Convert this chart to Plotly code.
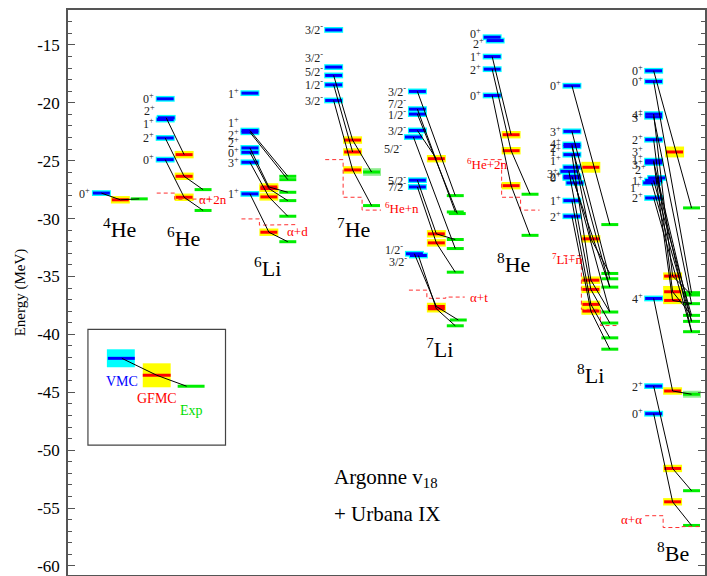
import plotly.graph_objects as go

FONT = "Liberation Serif"

# ---------------- data (energies in MeV) ----------------
Y_TICKS = [-60, -55, -50, -45, -40, -35, -30, -25, -20, -15]
Y_TICK_TEXT = ["-60", "-55", "-50", "-45", "-40", "-35", "-30", "-25", "-20", "-15"]

NUCLEI = ["4He", "6He", "6Li", "7He", "7Li", "8He", "8Li", "8Be"]
NUC_TEXT = ["<sup>4</sup>He", "<sup>6</sup>He", "<sup>6</sup>Li", "<sup>7</sup>He",
            "<sup>7</sup>Li", "<sup>8</sup>He", "<sup>8</sup>Li", "<sup>8</sup>Be"]

HE4_VMC = [-27.8]
HE4_VMC_LBL = ["0+"]
HE4_GFMC = [-28.38]
HE4_EXP = [-28.30]
HE4_LINKS = [(0, 0, 0)]

HE6_VMC = [-19.66, -21.3, -21.45, -23.04, -24.91]
HE6_VMC_LBL = ["0+", "2+", "1+", "2+", "0+"]
HE6_GFMC = [-24.48, -26.35, -28.16]
HE6_EXP = [-27.5, -29.3]
HE6_LINKS = [(1, 0, None), (3, 1, 0), (4, 2, 1)]

LI6_VMC = [-19.17, -22.4, -22.55, -23.9, -24.28, -25.14, -27.87]
LI6_VMC_LBL = ["1+", "1+", "2+", "2+", "0+", "3+", "1+"]
LI6_GFMC = [-27.27, -27.41, -28.13, -31.18]
LI6_EXP = [-26.35, -26.64, -27.73, -28.45, -29.8, -32.0]
LI6_LINKS = [(1, None, 0), (2, None, 1), (3, 0, 2), (4, 1, 3), (5, 2, 4), (6, 3, 5)]

HE7_VMC = [-13.71, -16.92, -17.64, -18.45, -19.8]
HE7_VMC_LBL = ["3/2-", "3/2-", "5/2-", "1/2-", "3/2-"]
HE7_GFMC = [-23.22, -24.25, -25.8]
HE7_EXP = [-25.98, -28.88]
HE7_LINKS = [(2, 0, 0), (3, 1, None), (4, 2, 1)]

LI7_VMC = [-19.02, -20.55, -20.98, -22.39, -22.96, -26.69, -27.27, -33.04, -33.19]
LI7_VMC_LBL = ["3/2-", "7/2-", "1/2-", "3/2-", "5/2-", "5/2-", "7/2-", "1/2-", "3/2-"]
LI7_GFMC = [-24.83, -31.32, -32.1, -37.59, -37.79]
LI7_EXP = [-28.02, -29.43, -29.57, -31.81, -32.59, -34.63, -38.76, -39.26]
LI7_LINKS = [(0, None, 0), (1, None, 1), (2, None, 2), (3, 0, None), (4, None, 4),
             (5, 1, 3), (6, 2, 5), (7, 3, 6), (8, 4, 7)]

HE8_VMC = [-14.34, -14.63, -16.01, -17.1, -19.37]
HE8_VMC_LBL = ["0+", "2+", "1+", "2+", "0+"]
HE8_GFMC = [-22.76, -24.14, -27.16]
HE8_EXP = [-27.9, -31.45]
HE8_LINKS = [(2, 0, None), (3, 1, 0), (4, 2, 1)]

LI8_VMC = [-18.53, -22.47, -23.6, -23.77, -24.48, -25.57, -25.92, -26.35, -26.49,
           -26.92, -28.45, -29.8]
LI8_VMC_LBL = ["0+", "3+", "4+", "2+", "1+", "1+", "3+", "2+", "0+", "", "1+", "2+"]
LI8_GFMC = [-25.57, -31.75, -35.32, -36.12, -37.41, -37.99]
LI8_EXP = [-30.52, -34.74, -35.2, -35.92, -38.07, -39.02, -40.3, -41.28]
LI8_LINKS = [(0, None, 0), (1, None, 2), (2, 1, 1), (3, None, 3), (4, 2, 4), (6, 3, 5),
             (7, None, 3), (9, None, 4), (10, 4, 6), (11, 5, 7)]

BE8_VMC = [-17.24, -18.16, -20.98, -21.21, -23.19, -25.0, -25.11, -25.2, -26.49,
           -26.72, -26.92, -28.22, -36.9, -44.47, -46.85]
BE8_VMC_LBL = ["0+", "0+", "4+", "3+", "2+", "3+", "1+", "3+", "2+", "1+", "1+", "2+",
               "4+", "2+", "0+"]
BE8_GFMC = [-24.25, -34.97, -36.32, -37.07, -44.89, -51.58, -54.46]
BE8_EXP = [-29.08, -36.4, -36.6, -37.35, -38.36, -38.88, -39.77, -45.17, -53.5, -56.5]
BE8_LINKS = [(0, None, 0), (1, None, 1), (2, 1, 2), (3, None, 3), (4, 2, 4), (5, 3, 3),
             (6, None, 5), (8, None, 6), (9, None, 4), (10, None, 5), (11, None, 6),
             (12, 4, 7), (13, 5, 8), (14, 6, 9)]

# breakup thresholds (VMC, GFMC, Exp)
THR_NUC = ["6He", "6Li", "7He", "7Li", "8He", "8Li", "8Be"]
THR_VMC = [-27.8, -30.03, -24.91, -36.18, -24.91, -33.2, -55.66]
THR_GFMC = [-28.34, -30.57, -28.16, -36.88, -28.16, -37.84, -56.68]
THR_EXP = [-28.30, -30.52, -29.27, -36.78, -29.27, -39.24, -56.6]
THR_TEXT = ["α+2n", "α+d", "<sup>6</sup>He+n", "α+t", "<sup>6</sup>He+2n",
            "<sup>7</sup>Li+n", "α+α"]

# ---------------- layout / style ----------------
NUC_X0 = [93, 157, 242, 326, 410, 485, 565, 647]       # left edge of each VMC column
NUC_LABEL_POS = [(120, -30.78), (184, -31.55), (268, -34.14), (354, -30.8),
                 (441, -41.2), (515, -33.8), (592, -43.4), (675, -58.8)]
THR_TEXT_POS = [(197, -28.36), (286, -31.12), (384, -29.05), (469, -36.81),
                (466, -25.26), (552, -33.53), (621, -56.03)]
COL_DX = {"vmc": 0, "gfmc": 19, "exp": 38}
BW = 17
COLORS = {"vmc": "#0000ff", "gfmc": "#ff0000", "exp": "#00ee00"}
BAND = {"vmc": "#00ffff", "gfmc": "#ffff00"}
BAND_ERR = {"vmc": 0.25, "gfmc": 0.32}
BAND_OVERRIDE = {("8Li", "gfmc", 0): 0.47, ("8Be", "gfmc", 0): 0.47,
                 ("8Be", "gfmc", 2): 0.5}
EXP_BANDS = {("7He", 0): 0.33, ("8Be", 7): 0.3}
LABEL_SHIFT = {("6He", 1): 0.6, ("6He", 2): -0.3, ("6Li", 1): 0.7, ("6Li", 2): -0.2,
               ("6Li", 3): 0.5, ("7He", 1): 0.8, ("7He", 2): 0.35, ("7Li", 1): 0.45,
               ("7Li", 4): -0.95, ("7Li", 7): 0.35, ("7Li", 8): -0.55, ("8He", 0): 0.35,
               ("8He", 1): -0.25, ("8Li", 2): 0.1, ("8Li", 3): -0.1, ("8Li", 4): 0.3,
               ("8Li", 5): 0.6, ("8Li", 6): -0.2, ("8Be", 5): 0.8, ("8Be", 6): 0.2,
               ("8Be", 7): -0.14, ("8Be", 8): 0.7, ("8Be", 10): -0.38, ("8Be", 3): -0.05}
BAR_SHIFT = {("6He", "vmc", 1): 1, ("7Li", "vmc", 4): -4, ("7Li", "vmc", 7): -3,
             ("7Li", "vmc", 8): 1, ("8He", "vmc", 1): 3, ("8Li", "vmc", 6): -3,
             ("8Li", "vmc", 9): 3, ("8Be", "vmc", 8): 3, ("8Be", "vmc", 10): -2,
             ("7Li", "exp", 2): 2, ("7Li", "exp", 6): 3, ("8Be", "gfmc", 0): 2}

TABLE = {
    "4He": (HE4_VMC, HE4_VMC_LBL, HE4_GFMC, HE4_EXP, HE4_LINKS),
    "6He": (HE6_VMC, HE6_VMC_LBL, HE6_GFMC, HE6_EXP, HE6_LINKS),
    "6Li": (LI6_VMC, LI6_VMC_LBL, LI6_GFMC, LI6_EXP, LI6_LINKS),
    "7He": (HE7_VMC, HE7_VMC_LBL, HE7_GFMC, HE7_EXP, HE7_LINKS),
    "7Li": (LI7_VMC, LI7_VMC_LBL, LI7_GFMC, LI7_EXP, LI7_LINKS),
    "8He": (HE8_VMC, HE8_VMC_LBL, HE8_GFMC, HE8_EXP, HE8_LINKS),
    "8Li": (LI8_VMC, LI8_VMC_LBL, LI8_GFMC, LI8_EXP, LI8_LINKS),
    "8Be": (BE8_VMC, BE8_VMC_LBL, BE8_GFMC, BE8_EXP, BE8_LINKS),
}


def sup(lbl):
    if not lbl:
        return ""
    return lbl[:-1] + "<sup>" + lbl[-1] + "</sup>"


shapes = []
annotations = []
bar_xy = {k: ([], []) for k in COLORS}
link_x, link_y = [], []

for ni, nuc in enumerate(NUCLEI):
    vmc, lbl, gfmc, exp, links = TABLE[nuc]
    x0 = NUC_X0[ni]
    cols = {"vmc": vmc, "gfmc": gfmc, "exp": exp}
    centers = {}
    for kind, vals in cols.items():
        centers[kind] = []
        for i, e in enumerate(vals):
            xl = x0 + COL_DX[kind] + BAR_SHIFT.get((nuc, kind, i), 0)
            xr = xl + BW
            centers[kind].append((xl + xr) / 2)
            if kind in BAND:
                err = BAND_OVERRIDE.get((nuc, kind, i), BAND_ERR[kind])
                shapes.append(dict(type="rect", xref="x", yref="y", layer="below",
                                   x0=xl - 1, x1=xr + 1, y0=e - err, y1=e + err,
                                   fillcolor=BAND[kind], line=dict(width=0)))
            elif (nuc, i) in EXP_BANDS:
                err = EXP_BANDS[(nuc, i)]
                shapes.append(dict(type="rect", xref="x", yref="y", layer="below",
                                   x0=xl, x1=xr + 1, y0=e - err, y1=e + err,
                                   fillcolor="#90ee90", line=dict(width=0)))
            bx, by = bar_xy[kind]
            bx += [xl, xr, None]
            by += [e, e, None]
    # state labels
    for i, e in enumerate(vmc):
        if lbl[i]:
            annotations.append(dict(x=x0 - 0.5 + BAR_SHIFT.get((nuc, "vmc", i), 0),
                                    y=e + LABEL_SHIFT.get((nuc, i), 0),
                                    xref="x", yref="y", text=sup(lbl[i]),
                                    xanchor="right", yanchor="middle", showarrow=False,
                                    font=dict(family=FONT, size=12, color="#222")))
    # connecting lines
    for (iv, ig, ie) in links:
        pts = [(centers["vmc"][iv], vmc[iv])]
        if ig is not None:
            pts.append((centers["gfmc"][ig], gfmc[ig]))
        if ie is not None:
            pts.append((centers["exp"][ie], exp[ie]))
        for px, py in pts:
            link_x.append(px)
            link_y.append(py)
        link_x.append(None)
        link_y.append(None)
    # nucleus label
    lx, ly = NUC_LABEL_POS[ni]
    annotations.append(dict(x=lx, y=ly, xref="x", yref="y", text=NUC_TEXT[ni],
                            showarrow=False, xanchor="center", yanchor="middle",
                            font=dict(family=FONT, size=22, color="black")))

fig = go.Figure()
for kind in ["vmc", "gfmc", "exp"]:
    bx, by = bar_xy[kind]
    fig.add_trace(go.Scatter(x=bx, y=by, mode="lines", hoverinfo="skip",
                             line=dict(color=COLORS[kind], width=3), showlegend=False))

# thresholds
tx, ty = [], []
for k, nuc in enumerate(THR_NUC):
    x0 = NUC_X0[NUCLEI.index(nuc)]
    v, g, e = THR_VMC[k], THR_GFMC[k], THR_EXP[k]
    xs = [x0, x0 + 18, x0 + 18, x0 + 37, x0 + 37, x0 + 56, None]
    ys = [v, v, g, g, e, e, None]
    tx += xs
    ty += ys
    px, py = THR_TEXT_POS[k]
    annotations.append(dict(x=px, y=py, xref="x", yref="y", text=THR_TEXT[k],
                            showarrow=False, xanchor="left", yanchor="middle",
                            font=dict(family=FONT, size=13, color="#ff0000")))
fig.add_trace(go.Scatter(x=tx, y=ty, mode="lines", hoverinfo="skip",
                         line=dict(color="#ff3030", width=1, dash="4px,3px"),
                         showlegend=False))

fig.add_trace(go.Scatter(x=link_x, y=link_y, mode="lines", hoverinfo="skip",
                         line=dict(color="black", width=1), showlegend=False))

# ---- legend illustration ----
shapes.append(dict(type="rect", xref="x", yref="y", x0=88, x1=226, y0=-39.57, y1=-49.57,
                   layer="below", line=dict(color="#444", width=1.2),
                   fillcolor="rgba(0,0,0,0)"))
shapes.append(dict(type="rect", xref="x", yref="y", x0=107, x1=135, y0=-41.29, y1=-42.84,
                   layer="below", fillcolor="#00ffff", line=dict(width=0)))
shapes.append(dict(type="rect", xref="x", yref="y", x0=143, x1=171, y0=-42.5, y1=-44.57,
                   layer="below", fillcolor="#ffff00", line=dict(width=0)))
LEG_X = [[108, 135], [143, 171], [178, 205]]
LEG_E = [-42.07, -43.53, -44.48]
for j, kind in enumerate(["vmc", "gfmc", "exp"]):
    fig.add_trace(go.Scatter(x=LEG_X[j], y=[LEG_E[j], LEG_E[j]], mode="lines",
                             hoverinfo="skip", showlegend=False,
                             line=dict(color=COLORS[kind], width=3)))
fig.add_trace(go.Scatter(x=[122, 157, 187], y=LEG_E, mode="lines", hoverinfo="skip",
                         showlegend=False, line=dict(color="black", width=1)))
for txt, xx, yy, c in [("VMC", 122, -44.05, "#0000ff"), ("GFMC", 157, -45.52, "#ff0000"),
                       ("Exp", 192, -46.55, "#00dd00")]:
    annotations.append(dict(x=xx, y=yy, xref="x", yref="y", text=txt, showarrow=False,
                            xanchor="center", yanchor="middle",
                            font=dict(family=FONT, size=14, color=c)))

annotations.append(dict(x=333, y=-52.41, xref="x", yref="y",
                        text="Argonne v<sub>18</sub>", showarrow=False, xanchor="left",
                        yanchor="middle", font=dict(family=FONT, size=21, color="black")))
annotations.append(dict(x=333, y=-55.52, xref="x", yref="y", text="+ Urbana IX",
                        showarrow=False, xanchor="left", yanchor="middle",
                        font=dict(family=FONT, size=21, color="black")))

fig.update_layout(
    width=707, height=576,
    margin=dict(l=68, r=0, t=10, b=0),
    paper_bgcolor="white", plot_bgcolor="white",
    shapes=shapes, annotations=annotations,
    xaxis=dict(range=[68, 707], showgrid=False, zeroline=False, showticklabels=False,
               ticks="", showline=True, mirror=True, linecolor="#555", linewidth=1.5),
    yaxis=dict(range=[-60.78, -11.99], showgrid=False, zeroline=False,
               tickvals=Y_TICKS, ticktext=Y_TICK_TEXT, ticks="inside", ticklen=7,
               tickwidth=1, tickcolor="#555", showline=True, linecolor="#555",
               linewidth=1.5, mirror="ticks", ticklabelstandoff=3,
               ticklabeloverflow="allow",
               tickfont=dict(family=FONT, size=17, color="black"),
               minor=dict(dtick=1, ticks="inside", ticklen=4, tickcolor="#555"),
               title=dict(text="Energy (MeV)", standoff=8,
                          font=dict(family=FONT, size=15, color="black"))),
)

fig.write_html("out.html")
